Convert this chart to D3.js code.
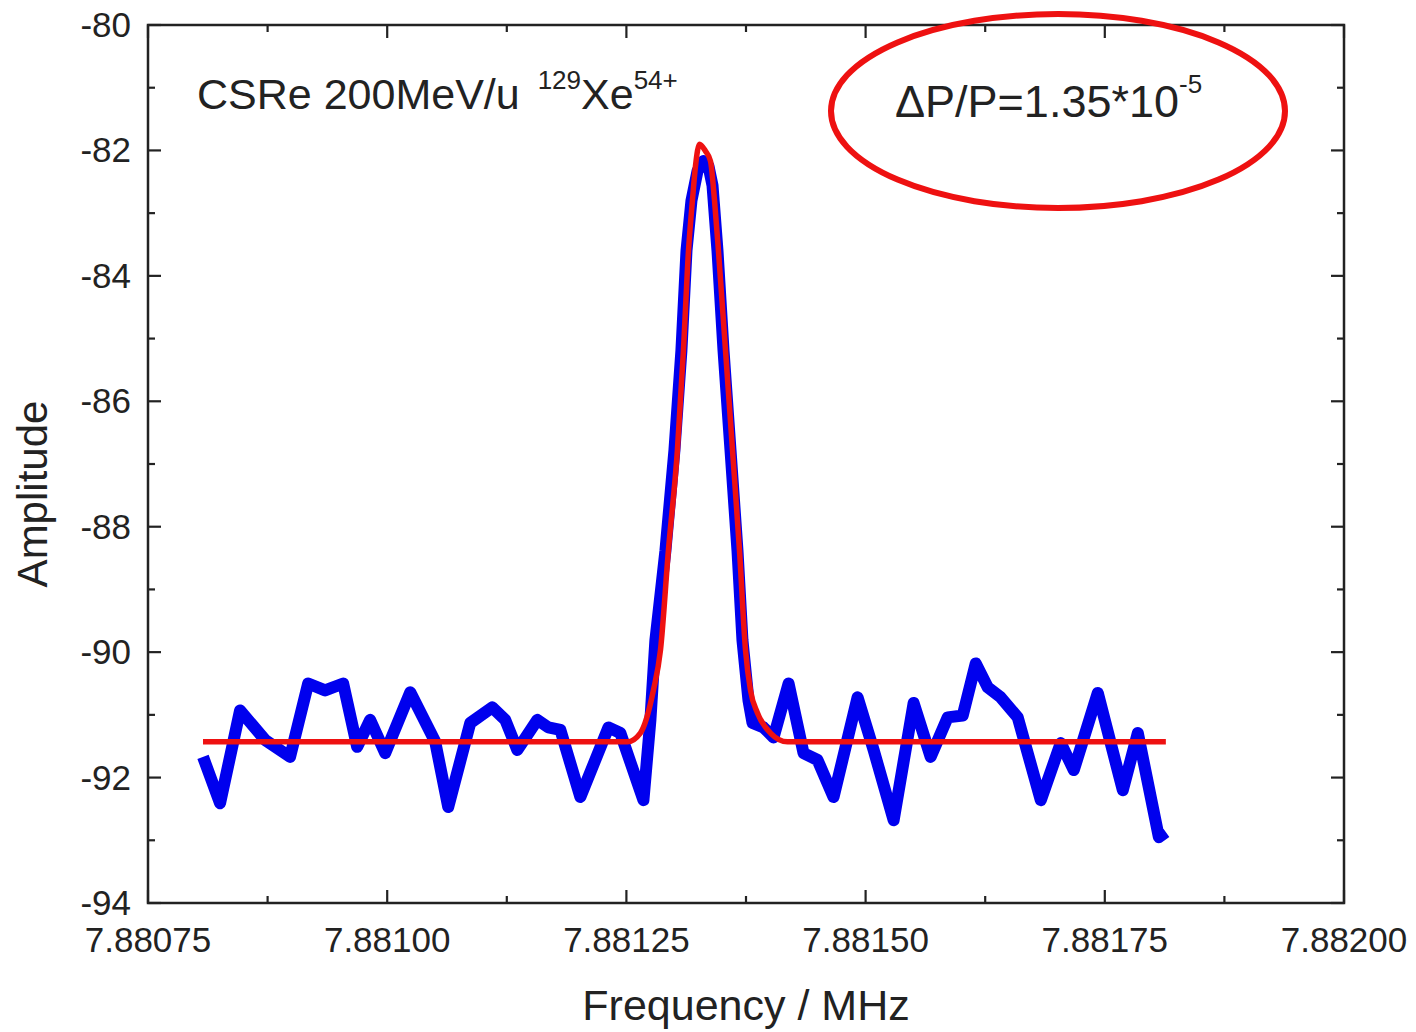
<!DOCTYPE html>
<html>
<head>
<meta charset="utf-8">
<script src="https://cdn.jsdelivr.net/npm/d3@7"></script>
<style>
  body { margin: 0; background: #fff; }
  svg text { font-family: "Liberation Sans", Arial, sans-serif; fill: #222; }
</style>
</head>
<body>
<svg id="chart" width="1416" height="1032"></svg>
<script>
// measured spectrum (blue)
var measFreq = [7.8808075, 7.8808253, 7.8808462, 7.8808724, 7.8808985, 7.8809174, 7.8809351, 7.880954,
  7.8809686, 7.8809822, 7.8809979, 7.8810241, 7.8810502, 7.8810638, 7.8810868, 7.8811098, 7.8811234,
  7.881136, 7.8811569, 7.8811684, 7.881181, 7.8812019, 7.8812312, 7.8812437, 7.8812678, 7.8812751,
  7.8812803, 7.8812908, 7.8813002, 7.8813075, 7.8813128, 7.881318, 7.8813243, 7.8813305, 7.8813358,
  7.88134, 7.8813452, 7.8813515, 7.8813588, 7.8813661, 7.8813713, 7.8813776, 7.8813818, 7.8813933,
  7.8814038, 7.8814195, 7.8814351, 7.8814498, 7.8814665, 7.8814916, 7.8815084, 7.8815293, 7.8815502,
  7.881568, 7.8815858, 7.8816015, 7.8816151, 7.8816276, 7.8816412, 7.881659, 7.8816831, 7.881704,
  7.8817176, 7.8817427, 7.8817688, 7.8817845, 7.8818065, 7.8818138];
var measAmp = [-91.67, -92.41, -90.93, -91.40, -91.67, -90.50, -90.61, -90.50,
  -91.51, -91.08, -91.61, -90.64, -91.43, -92.47, -91.13, -90.88, -91.08,
  -91.56, -91.08, -91.20, -91.24, -92.31, -91.20, -91.29, -92.36, -91.08,
  -89.81, -88.38, -86.78, -85.19, -83.60, -82.80, -82.33, -82.17, -82.25,
  -82.56, -83.60, -85.19, -86.78, -88.38, -89.81, -90.77, -91.13, -91.20,
  -91.36, -90.50, -91.61, -91.72, -92.31, -90.72, -91.56, -92.68, -90.81,
  -91.67, -91.04, -91.01, -90.18, -90.56, -90.72, -91.04, -92.36, -91.45,
  -91.88, -90.65, -92.20, -91.29, -92.95, -92.87];

// fitted curve (red)
var fitFreq = [7.8808075, 7.881251, 7.8812646, 7.8812782, 7.8812856, 7.8812939, 7.8813033, 7.8813096,
  7.8813149, 7.881319, 7.8813222, 7.8813264, 7.8813326, 7.8813379, 7.8813421, 7.8813462, 7.8813536,
  7.8813609, 7.8813682, 7.8813745, 7.8813797, 7.881387, 7.8814006, 7.8814184, 7.8818138];
var fitAmp = [-91.43, -91.43, -91.29, -90.61, -89.97, -88.38, -86.78, -85.19,
  -83.60, -82.80, -82.25, -81.90, -82.01, -82.17, -82.80, -83.60, -85.19,
  -86.78, -88.38, -89.97, -90.61, -90.97, -91.29, -91.43, -91.43];

var xMajor = [7.88075, 7.88100, 7.88125, 7.88150, 7.88175, 7.88200];
var yMajor = [-80, -82, -84, -86, -88, -90, -92, -94];

(function () {
  var svg = d3.select("#chart");
  var pl = 148, pr = 1344, pt = 25, pb = 903;

  var x = d3.scaleLinear().domain([7.88075, 7.88200]).range([pl, pr]);
  var y = d3.scaleLinear().domain([-94, -80]).range([pb, pt]);

  var xMinor = d3.range(0, 11).map(function (i) { return 7.88075 + i * 0.000125; });
  var yMinor = d3.range(-94, -79, 1);

  // ticks, all pointing inward
  function tickLines(g, vals, horiz, pos, dir) {
    vals.forEach(function (v, i) {
      var len = (i % 2 === 0) ? 13 : 7;
      if (horiz) {
        g.append("line").attr("x1", x(v)).attr("x2", x(v))
          .attr("y1", pos).attr("y2", pos + dir * len);
      } else {
        g.append("line").attr("y1", y(v)).attr("y2", y(v))
          .attr("x1", pos).attr("x2", pos + dir * len);
      }
    });
  }
  var tg = svg.append("g").attr("stroke", "#222").attr("stroke-width", 2.2);
  tickLines(tg, xMinor, true, pb, -1);
  tickLines(tg, xMinor, true, pt, 1);
  tickLines(tg, yMinor, false, pl, 1);
  tickLines(tg, yMinor, false, pr, -1);

  svg.append("rect").attr("x", pl).attr("y", pt)
    .attr("width", pr - pl).attr("height", pb - pt)
    .attr("fill", "none").attr("stroke", "#222").attr("stroke-width", 2.5);

  // tick labels
  svg.append("g").selectAll("text").data(xMajor).join("text")
    .attr("x", function (d) { return x(d); }).attr("y", 952)
    .attr("text-anchor", "middle").attr("font-size", 35)
    .text(function (d) { return d3.format(".5f")(d); });

  svg.append("g").selectAll("text").data(yMajor).join("text")
    .attr("x", 131).attr("y", function (d) { return y(d) + 12; })
    .attr("text-anchor", "end").attr("font-size", 35)
    .text(function (d) { return d; });

  // axis titles
  svg.append("text").attr("x", 746).attr("y", 1020)
    .attr("text-anchor", "middle").attr("font-size", 43).text("Frequency / MHz");
  svg.append("text").attr("transform", "translate(47,494) rotate(-90)")
    .attr("text-anchor", "middle").attr("font-size", 42).text("Amplitude");

  // data lines
  var meas = measFreq.map(function (f, i) { return [f, measAmp[i]]; });
  var fit = fitFreq.map(function (f, i) { return [f, fitAmp[i]]; });

  svg.append("path").datum(meas)
    .attr("fill", "none").attr("stroke", "#0000ee").attr("stroke-width", 12)
    .attr("stroke-linejoin", "round").attr("stroke-linecap", "butt")
    .attr("d", d3.line().x(function (d) { return x(d[0]); }).y(function (d) { return y(d[1]); }));

  svg.append("path").datum(fit)
    .attr("fill", "none").attr("stroke", "#ee1111").attr("stroke-width", 5.5)
    .attr("stroke-linejoin", "round")
    .attr("d", d3.line().curve(d3.curveMonotoneX)
      .x(function (d) { return x(d[0]); }).y(function (d) { return y(d[1]); }));

  // annotations
  var t1 = svg.append("text").attr("x", 197).attr("y", 109).attr("font-size", 43);
  t1.append("tspan").text("CSRe 200MeV/u ");
  t1.append("tspan").attr("font-size", 26).attr("dy", -20).attr("dx", 6).text("129");
  t1.append("tspan").attr("dy", 20).text("Xe");
  t1.append("tspan").attr("font-size", 26).attr("dy", -20).text("54+");

  svg.append("ellipse").attr("cx", 1058).attr("cy", 111).attr("rx", 227).attr("ry", 97)
    .attr("fill", "none").attr("stroke", "#ee1111").attr("stroke-width", 6);

  var t2 = svg.append("text").attr("x", 895).attr("y", 117).attr("font-size", 45);
  t2.append("tspan").text("\u0394P/P=1.35*10");
  t2.append("tspan").attr("font-size", 26).attr("dy", -24).text("-5");
})();
</script>
</body>
</html>
